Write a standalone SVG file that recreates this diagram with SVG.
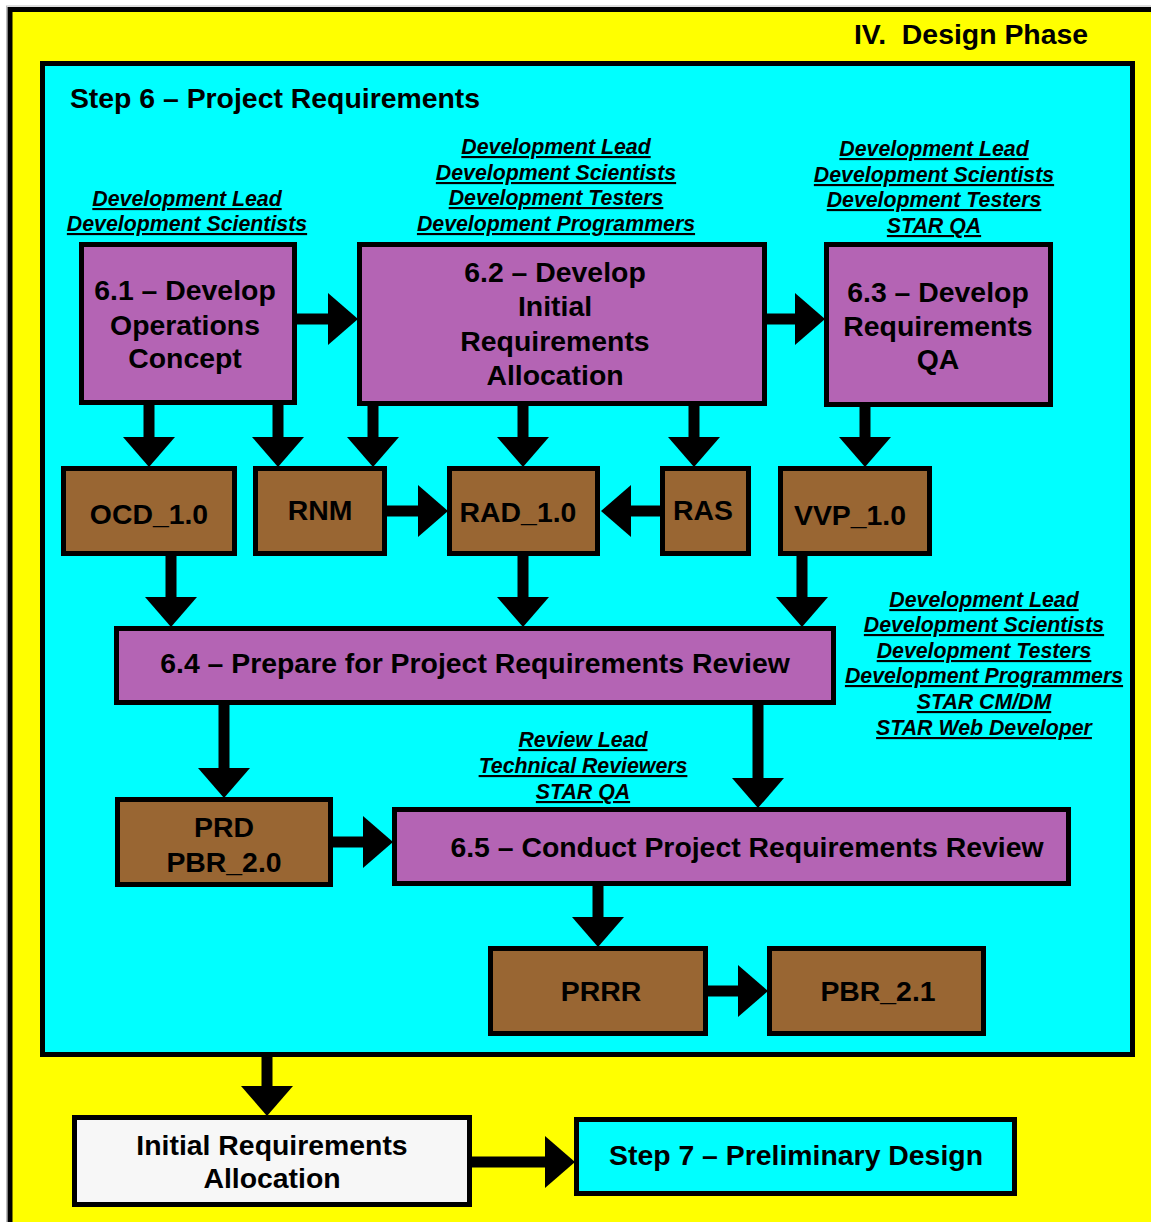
<svg xmlns="http://www.w3.org/2000/svg" width="1151" height="1222" viewBox="0 0 1151 1222">
<defs>
<style>
.box{stroke:#000;stroke-width:5}
.proc{fill:#B464B4}
.prod{fill:#996633}
.t{font-family:"Liberation Sans",Arial,sans-serif;font-weight:bold;font-size:28.4px;fill:#000;text-anchor:middle}
.r{font-family:"Liberation Sans",Arial,sans-serif;font-weight:bold;font-style:italic;font-size:21.3px;fill:#000;text-anchor:middle;text-decoration:underline}
.c{stroke:#000;stroke-width:11;fill:none;marker-end:url(#ah)}
</style>
<marker id="ah" markerUnits="userSpaceOnUse" markerWidth="31" markerHeight="54" refX="0" refY="27" orient="auto" viewBox="0 0 31 54">
<path d="M0,1 L30,27 L0,53 Z" fill="#000"/>
</marker>
</defs>
<rect x="0" y="0" width="1151" height="1222" fill="#fff"/>
<rect x="6.5" y="6" width="1200" height="1300" fill="none" stroke="#BDBDBD" stroke-width="1"/>
<g id="phase">
<rect x="10" y="9.5" width="1170" height="1240" fill="#FFFF00" stroke="#000" stroke-width="5"/>
<text class="t" x="971" y="44" xml:space="preserve">IV.  Design Phase</text>
</g>
<g id="step6">
<rect x="42.5" y="63.5" width="1090" height="991" fill="#00FFFF" stroke="#000" stroke-width="5"/>
<text class="t" x="275" y="108">Step 6 – Project Requirements</text>
</g>
<g id="roles">
<text class="r" x="187" y="206">Development Lead</text>
<text class="r" x="187" y="231">Development Scientists</text>
<text class="r" x="556" y="154">Development Lead</text>
<text class="r" x="556" y="180">Development Scientists</text>
<text class="r" x="556" y="205">Development Testers</text>
<text class="r" x="556" y="231">Development Programmers</text>
<text class="r" x="934" y="156">Development Lead</text>
<text class="r" x="934" y="182">Development Scientists</text>
<text class="r" x="934" y="207">Development Testers</text>
<text class="r" x="934" y="233">STAR QA</text>
<text class="r" x="984" y="607">Development Lead</text>
<text class="r" x="984" y="632">Development Scientists</text>
<text class="r" x="984" y="658">Development Testers</text>
<text class="r" x="984" y="683">Development Programmers</text>
<text class="r" x="984" y="709">STAR CM/DM</text>
<text class="r" x="984" y="735">STAR Web Developer</text>
<text class="r" x="583" y="747">Review Lead</text>
<text class="r" x="583" y="773">Technical Reviewers</text>
<text class="r" x="583" y="799">STAR QA</text>
</g>
<g id="n61">
<rect class="box proc" x="81.5" y="244.5" width="213" height="158"/>
<text class="t" x="185" y="300">6.1 – Develop</text>
<text class="t" x="185" y="335">Operations</text>
<text class="t" x="185" y="368">Concept</text>
</g>
<g id="n62">
<rect class="box proc" x="359.5" y="244.5" width="405" height="159"/>
<text class="t" x="555" y="282">6.2 – Develop</text>
<text class="t" x="555" y="316">Initial</text>
<text class="t" x="555" y="351">Requirements</text>
<text class="t" x="555" y="385">Allocation</text>
</g>
<g id="n63">
<rect class="box proc" x="826.5" y="244.5" width="224" height="160"/>
<text class="t" x="938" y="302">6.3 – Develop</text>
<text class="t" x="938" y="336">Requirements</text>
<text class="t" x="938" y="369">QA</text>
</g>
<g id="ocd">
<rect class="box prod" x="63.5" y="468.5" width="171" height="85"/>
<text class="t" x="149" y="524">OCD_1.0</text>
</g>
<g id="rnm">
<rect class="box prod" x="255.5" y="468.5" width="129" height="85"/>
<text class="t" x="320" y="520">RNM</text>
</g>
<g id="rad">
<rect class="box prod" x="449.5" y="468.5" width="148" height="85"/>
<text class="t" x="518" y="522">RAD_1.0</text>
</g>
<g id="ras">
<rect class="box prod" x="662.5" y="468.5" width="86" height="85"/>
<text class="t" x="703" y="520">RAS</text>
</g>
<g id="vvp">
<rect class="box prod" x="780.5" y="468.5" width="149" height="85"/>
<text class="t" x="850" y="525">VVP_1.0</text>
</g>
<g id="n64">
<rect class="box proc" x="116.5" y="628.5" width="717" height="74"/>
<text class="t" x="475" y="673">6.4 – Prepare for Project Requirements Review</text>
</g>
<g id="prd">
<rect class="box prod" x="117.5" y="799.5" width="213" height="85"/>
<text class="t" x="224" y="837">PRD</text>
<text class="t" x="224" y="872">PBR_2.0</text>
</g>
<g id="n65">
<rect class="box proc" x="394.5" y="809.5" width="674" height="74"/>
<text class="t" x="747" y="857">6.5 – Conduct Project Requirements Review</text>
</g>
<g id="prrr">
<rect class="box prod" x="490.5" y="948.5" width="215" height="85"/>
<text class="t" x="601" y="1001">PRRR</text>
</g>
<g id="pbr21">
<rect class="box prod" x="769.5" y="948.5" width="214" height="85"/>
<text class="t" x="878" y="1001">PBR_2.1</text>
</g>
<g id="initreq">
<rect class="box" fill="#F7F7F7" x="74.5" y="1117.5" width="395" height="87"/>
<text class="t" x="272" y="1155">Initial Requirements</text>
<text class="t" x="272" y="1188">Allocation</text>
</g>
<g id="step7">
<rect class="box" fill="#00FFFF" x="576.5" y="1119.5" width="438" height="74"/>
<text class="t" x="796" y="1165">Step 7 – Preliminary Design</text>
</g>
<g id="connectors">
<line class="c" x1="297" y1="319" x2="328" y2="319"/>
<line class="c" x1="767" y1="319" x2="795" y2="319"/>
<line class="c" x1="149" y1="405" x2="149" y2="437"/>
<line class="c" x1="278" y1="405" x2="278" y2="437"/>
<line class="c" x1="373" y1="406" x2="373" y2="437"/>
<line class="c" x1="523" y1="406" x2="523" y2="437"/>
<line class="c" x1="694" y1="406" x2="694" y2="437"/>
<line class="c" x1="865" y1="407" x2="865" y2="437"/>
<line class="c" x1="387" y1="511" x2="418" y2="511"/>
<line class="c" x1="660" y1="511" x2="631" y2="511"/>
<line class="c" x1="171" y1="556" x2="171" y2="597"/>
<line class="c" x1="523" y1="556" x2="523" y2="597"/>
<line class="c" x1="802" y1="556" x2="802" y2="597"/>
<line class="c" x1="224" y1="705" x2="224" y2="768"/>
<line class="c" x1="758" y1="705" x2="758" y2="778"/>
<line class="c" x1="333" y1="842" x2="363" y2="842"/>
<line class="c" x1="598" y1="886" x2="598" y2="917"/>
<line class="c" x1="708" y1="991" x2="738" y2="991"/>
<line class="c" x1="267" y1="1057" x2="267" y2="1086"/>
<line class="c" x1="472" y1="1162" x2="545" y2="1162"/>
</g>
</svg>
